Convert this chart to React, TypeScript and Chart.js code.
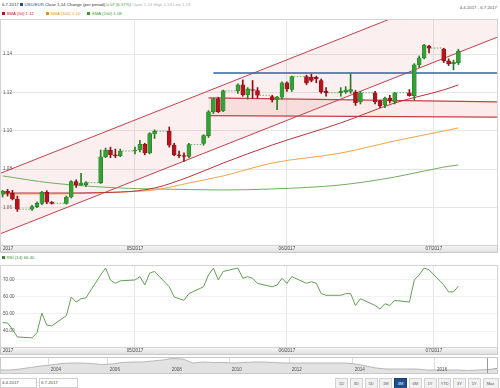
import React, { useEffect, useRef } from 'react';
import { Chart, registerables } from 'chart.js';
Chart.register(...registerables);

// ---------------- DATA ----------------
const candleDates = [
  '2017-04-04','2017-04-05','2017-04-06','2017-04-07',
  '2017-04-10','2017-04-11','2017-04-12','2017-04-13','2017-04-14',
  '2017-04-17','2017-04-18','2017-04-19','2017-04-20','2017-04-21',
  '2017-04-24','2017-04-25','2017-04-26','2017-04-27','2017-04-28',
  '2017-05-01','2017-05-02','2017-05-03','2017-05-04','2017-05-05',
  '2017-05-08','2017-05-09','2017-05-10','2017-05-11','2017-05-12',
  '2017-05-15','2017-05-16','2017-05-17','2017-05-18','2017-05-19',
  '2017-05-22','2017-05-23','2017-05-24','2017-05-25','2017-05-26',
  '2017-05-29','2017-05-30','2017-05-31','2017-06-01','2017-06-02',
  '2017-06-05','2017-06-06','2017-06-07','2017-06-08','2017-06-09',
  '2017-06-12','2017-06-13','2017-06-14','2017-06-15','2017-06-16',
  '2017-06-19','2017-06-20','2017-06-21','2017-06-22','2017-06-23',
  '2017-06-26','2017-06-27','2017-06-28','2017-06-29','2017-06-30',
  '2017-07-03','2017-07-04','2017-07-05','2017-07-06',
];
const openVals = [
  1.0670,1.0685,1.0675,1.0645,
  1.0592,1.0605,1.0622,1.0680,1.0628,
  1.0622,1.0655,1.0735,1.0718,1.0720,
  1.0730,1.0865,1.0900,1.0875,1.0870,
  1.0895,1.0900,1.0930,1.0885,1.0985,
  1.0998,1.0925,1.0875,1.0870,1.0866,
  1.0934,1.0975,1.1099,1.1167,1.1103,
  1.1208,1.1240,1.1188,1.1215,1.1210,
  1.1178,1.1162,1.1175,1.1250,1.1215,
  1.1282,1.1280,1.1278,1.1262,1.1205,
  1.1198,1.1203,1.1205,1.1200,1.1150,
  1.1198,1.1155,1.1135,1.1170,1.1150,
  1.1198,1.1183,1.1343,1.1380,1.1441,
  1.1425,1.1364,1.1350,1.1355,
];
const highVals = [
  1.0690,1.0695,1.0690,1.0660,
  1.0612,1.0630,1.0685,1.0688,1.0632,
  1.0660,1.0740,1.0745,1.0778,1.0735,
  1.0900,1.0910,1.0915,1.0905,1.0905,
  1.0915,1.0950,1.0935,1.0990,1.1005,
  1.1020,1.0935,1.0895,1.0885,1.0935,
  1.0980,1.1105,1.1170,1.1175,1.1212,
  1.1245,1.1265,1.1225,1.1262,1.1225,
  1.1185,1.1180,1.1255,1.1255,1.1285,
  1.1290,1.1295,1.1285,1.1270,1.1225,
  1.1225,1.1230,1.1296,1.1210,1.1205,
  1.1205,1.1160,1.1175,1.1185,1.1200,
  1.1215,1.1350,1.1390,1.1450,1.1445,
  1.1430,1.1375,1.1368,1.1425,
];
const lowVals = [
  1.0655,1.0660,1.0640,1.0580,
  1.0585,1.0600,1.0615,1.0620,1.0618,
  1.0618,1.0650,1.0705,1.0715,1.0710,
  1.0725,1.0860,1.0860,1.0860,1.0865,
  1.0880,1.0890,1.0875,1.0880,1.0960,
  1.0915,1.0870,1.0860,1.0840,1.0860,
  1.0925,1.0965,1.1090,1.1095,1.1100,
  1.1195,1.1180,1.1165,1.1170,1.1170,
  1.1150,1.1110,1.1165,1.1205,1.1205,
  1.1240,1.1255,1.1250,1.1195,1.1180,
  1.1180,1.1195,1.1195,1.1132,1.1140,
  1.1140,1.1120,1.1120,1.1145,1.1140,
  1.1180,1.1160,1.1330,1.1375,1.1405,
  1.1355,1.1340,1.1317,1.1345,
];
const closeVals = [
  1.0685,1.0675,1.0645,1.0592,
  1.0605,1.0622,1.0680,1.0628,1.0622,
  1.0655,1.0735,1.0718,1.0728,1.0730,
  1.0865,1.0900,1.0875,1.0870,1.0895,
  1.0900,1.0930,1.0885,1.0985,1.0998,
  1.0925,1.0875,1.0870,1.0866,1.0928,
  1.0975,1.1099,1.1167,1.1100,1.1208,
  1.1240,1.1188,1.1218,1.1210,1.1185,
  1.1162,1.1175,1.1250,1.1218,1.1282,
  1.1250,1.1262,1.1270,1.1203,1.1198,
  1.1205,1.1212,1.1215,1.1146,1.1198,
  1.1150,1.1130,1.1170,1.1155,1.1198,
  1.1183,1.1343,1.1380,1.1447,1.1431,
  1.1364,1.1348,1.1356,1.1415,
];
const rsiVals = [
  45,44.7,41,36.5,
  36,39,50.5,43.5,43,
  49,60,57,59,59.5,
  73,77,70,68,69.5,
  70,72,67,74,75,
  66,60,59,58,62,
  66,73,77,70,75,
  77,71,72,71,68,
  66,67,71,68,72,
  68,69,68,62,61,
  61,62,62,55,59,
  55,53,56,55,58,
  57,70,73,77,76,
  67,63,63,66.4,
];

const smaDates = ['2017-04-04','2017-04-14','2017-04-28','2017-05-05','2017-05-12','2017-05-19','2017-05-29','2017-06-12','2017-06-23','2017-07-03','2017-07-06'];
const sma50Vals = [1.0676,1.0676,1.0681,1.0702,1.0760,1.0832,1.0926,1.1041,1.1145,1.1213,1.1239];
const sma100Vals = [1.0671,1.0671,1.0681,1.0692,1.0728,1.0765,1.0832,1.0884,1.0947,1.0999,1.1015];
const sma200Vals = [1.0765,1.0728,1.0702,1.0697,1.0694,1.0692,1.0697,1.0718,1.0759,1.0811,1.0822];

// drawn trend channel (two parallel lines), horizontal zone and resistance line
const channelDates = ['2017-04-01','2017-07-20'];
const channelUpperVals = [1.0753,1.1865];
const channelLowerVals = [1.0438,1.1549];
const zoneDates = ['2017-05-16','2017-07-20'];
const zoneUpperVals = [1.1172,1.1149];
const zoneLowerVals = [1.1079,1.1070];
const resistDates = ['2017-05-17','2017-07-20'];
const resistVals = [1.1301,1.1301];

const priceTicks = [1.06,1.08,1.10,1.12,1.14];
const rsiTicks = [40,50,60,70];
const monthTickDates = ['2017-05-01','2017-06-01','2017-07-01'];
const monthTickLabels = ['05/2017','06/2017','07/2017'];
const firstAxisLabel = '2017';
const axisStart = '2017-04-03T11:00:00';
const axisEnd = '2017-07-13T21:00:00';

const navValues = [1.00,1.00,1.05,1.125,1.20,1.25,1.325,1.35,1.35,1.325,1.275,1.30,1.375,1.40,1.40,1.45,1.50,1.575,1.55,1.35,1.40,1.375,1.375,1.35,1.375,1.40,1.40,1.375,1.35,1.35,1.35,1.35,1.35,1.35,1.35,1.30,1.20,1.10,1.05,1.05,1.05,1.05,1.00,1.00,1.00,1.00,0.975,1.00,1.025,1.075];
const navYearLabels = ['2004','2006','2008','2010','2012','2014','2016'];
const navYearIdx = [4.7,10.5,16.6,22.5,28.4,34.6,42.7];
const navSelIdx = [47.9,48.5,49];
const navSelVals = [1.0,1.03,1.08];

const rangeButtons = ['1D','3D','5D','1M','3M','6M','1Y','YTD','3Y','5Y','Max'];
const selectedRange = '3M';

// ---------------- HELPERS ----------------
const FONT = '"Liberation Sans", Arial, sans-serif';
const GREEN = '#35a035';
const GREEN_D = '#267d26';
const RED = '#b3151d';
const RED_D = '#8e0f15';

function dayIndex(s: string): number {
  const iso = s.length === 10 ? s + 'T00:00:00Z' : s + 'Z';
  return (Date.parse(iso) - Date.parse('2017-04-01T00:00:00Z')) / 86400000;
}

const bandPlugin = {
  id: 'bandPlugin',
  beforeDraw(chart: any) {
    const { ctx } = chart;
    ctx.save();
    ctx.fillStyle = '#ffffff';
    ctx.fillRect(0, 0, chart.width, chart.height);
    ctx.restore();
  },
  afterDraw(chart: any) {
    const { ctx, chartArea, scales } = chart;
    const top = chartArea.bottom;
    const h = 8;
    ctx.save();
    const g = ctx.createLinearGradient(0, top, 0, top + h);
    g.addColorStop(0, '#f8f8f8');
    g.addColorStop(1, '#dedede');
    ctx.fillStyle = g;
    ctx.fillRect(0, top, 498, h);
    ctx.strokeStyle = '#c9c9c9';
    ctx.lineWidth = 1;
    ctx.strokeRect(0.5, top + 0.5, 497, h - 1);
    ctx.strokeStyle = '#d4d4d4';
    ctx.strokeRect(0.5, chartArea.top + 0.5, 497, top - chartArea.top);
    ctx.fillStyle = '#444';
    ctx.font = '4.6px ' + FONT;
    ctx.textBaseline = 'middle';
    ctx.textAlign = 'left';
    ctx.fillText(firstAxisLabel, 3, top + h / 2);
    ctx.textAlign = 'center';
    monthTickDates.forEach((d, i) => {
      ctx.fillText(monthTickLabels[i], scales.x.getPixelForValue(dayIndex(d)), top + h / 2);
    });
    ctx.restore();
  },
};

function xScale() {
  return {
    type: 'linear',
    min: dayIndex(axisStart),
    max: dayIndex(axisEnd),
    offset: false,
    afterBuildTicks: (s: any) => { s.ticks = monthTickDates.map((d) => ({ value: dayIndex(d) })); },
    afterFit: (s: any) => { s.height = 8; s.paddingLeft = 0; s.paddingRight = 0; },
    ticks: { display: false },
    grid: { color: '#e6e6e6', drawTicks: false, offset: false },
    border: { display: false },
  };
}

function yScale(min: number, max: number, ticks: number[], gridColor: string) {
  return {
    position: 'left',
    min, max,
    afterBuildTicks: (s: any) => { s.ticks = ticks.map((v) => ({ value: v })); },
    afterFit: (s: any) => { s.width = 0; s.paddingTop = 0; s.paddingBottom = 0; },
    ticks: { mirror: true, padding: 3, color: '#555', font: { size: 4.6, family: FONT }, callback: (v: any) => Number(v).toFixed(2) },
    grid: { color: gridColor, drawTicks: false },
    border: { display: false },
  };
}

function pts(dates: string[], vals: number[]) {
  return dates.map((d, i) => ({ x: dayIndex(d), y: vals[i] }));
}

export default function App() {
  const mainRef = useRef<HTMLCanvasElement>(null);
  const rsiRef = useRef<HTMLCanvasElement>(null);
  const navRef = useRef<HTMLCanvasElement>(null);

  useEffect(() => {
    const xs = candleDates.map(dayIndex);
    const up = closeVals.map((c, i) => c >= openVals[i]);
    const gaps: any[] = [];
    for (let i = 0; i < xs.length - 1; i++) {
      if (xs[i + 1] - xs[i] > 1.5) {
        gaps.push({ x: xs[i] + 0.4, y: closeVals[i] });
        gaps.push({ x: xs[i + 1] - 0.4, y: closeVals[i] });
        gaps.push({ x: (xs[i] + xs[i + 1]) / 2, y: null });
      }
    }
    const lineDs = (data: any[], color: string, width: number, order: number, extra: any = {}) => ({
      type: 'line', data, borderColor: color, borderWidth: width, pointRadius: 0, order, fill: false, ...extra,
    });

    const main = new Chart(mainRef.current!, {
      type: 'bar',
      data: {
        datasets: [
          lineDs(pts(channelDates, channelUpperVals), '#c4404a', 1, 20, { fill: '+1', backgroundColor: 'rgba(225,95,95,0.10)' }),
          lineDs(pts(channelDates, channelLowerVals), '#c4404a', 1, 19),
          lineDs(pts(zoneDates, zoneUpperVals), '#c64048', 1.2, 18, { fill: '+1', backgroundColor: 'rgba(220,90,90,0.12)' }),
          lineDs(pts(zoneDates, zoneLowerVals), '#c64048', 1.2, 17),
          lineDs(pts(resistDates, resistVals), '#2f62a8', 1.3, 16),
          lineDs(pts(smaDates, sma200Vals), '#74ad62', 1, 15, { cubicInterpolationMode: 'monotone' }),
          lineDs(pts(smaDates, sma100Vals), '#f0a548', 1, 14, { cubicInterpolationMode: 'monotone' }),
          lineDs(pts(smaDates, sma50Vals), '#b8343c', 1, 13, { cubicInterpolationMode: 'monotone' }),
          lineDs(gaps, '#4f9f4f', 0.8, 3, { borderDash: [1.5, 1.5], spanGaps: false }),
          {
            type: 'bar', data: xs.map((x, i) => ({ x, y: [lowVals[i], highVals[i]] })),
            backgroundColor: up.map((u) => (u ? GREEN_D : RED_D)), barThickness: 1, grouped: false, order: 2,
          },
          {
            type: 'bar', data: xs.map((x, i) => ({ x, y: [openVals[i], closeVals[i]] })),
            backgroundColor: up.map((u) => (u ? GREEN : RED)), borderColor: up.map((u) => (u ? GREEN_D : RED_D)),
            borderWidth: 0.6, borderSkipped: false, barThickness: 4, grouped: false, minBarLength: 1, order: 1,
          },
        ] as any,
      },
      options: {
        animation: false, responsive: false, maintainAspectRatio: false,
        layout: { padding: { left: 0, right: 3, top: 0, bottom: 0 } },
        plugins: { legend: { display: false }, tooltip: { enabled: false } },
        scales: { x: xScale() as any, y: yScale(1.04052, 1.15823, priceTicks, '#e6e6e6') as any },
      },
      plugins: [bandPlugin],
    });

    const rsi = new Chart(rsiRef.current!, {
      type: 'line',
      data: {
        datasets: [
          { data: xs.map((x, i) => ({ x, y: rsiVals[i] })), borderColor: '#62a055', borderWidth: 1, pointRadius: 0, fill: false },
        ],
      },
      options: {
        animation: false, responsive: false, maintainAspectRatio: false,
        layout: { padding: { left: 0, right: 3, top: 2, bottom: 0 } },
        plugins: { legend: { display: false }, tooltip: { enabled: false } },
        scales: { x: xScale() as any, y: yScale(30.6, 78.8, rsiTicks, '#f1f1f1') as any },
      },
      plugins: [bandPlugin],
    });

    const navPlugin = {
      id: 'navPlugin',
      beforeDatasetsDraw(chart: any) {
        const { ctx, scales, chartArea } = chart;
        ctx.save();
        ctx.strokeStyle = '#dedede';
        ctx.lineWidth = 1;
        navYearIdx.forEach((v) => {
          const px = Math.round(scales.x.getPixelForValue(v)) + 0.5;
          ctx.beginPath(); ctx.moveTo(px, chartArea.top); ctx.lineTo(px, chartArea.bottom); ctx.stroke();
        });
        ctx.restore();
      },
      afterDraw(chart: any) {
        const { ctx, scales, chartArea } = chart;
        ctx.save();
        ctx.fillStyle = '#555';
        ctx.font = '4.6px ' + FONT;
        ctx.textBaseline = 'middle';
        ctx.textAlign = 'left';
        navYearIdx.forEach((v, i) => {
          ctx.fillText(navYearLabels[i], scales.x.getPixelForValue(v) + 3, chartArea.bottom - 4);
        });
        const sx = Math.round(scales.x.getPixelForValue(navSelIdx[0])) + 0.5;
        ctx.strokeStyle = '#999';
        ctx.beginPath(); ctx.moveTo(sx, chartArea.top); ctx.lineTo(sx, chartArea.bottom); ctx.stroke();
        ctx.strokeStyle = '#c8c8c8';
        ctx.strokeRect(0.5, chartArea.top + 0.5, 497, chartArea.bottom - chartArea.top - 1);
        ctx.restore();
      },
    };

    const nav = new Chart(navRef.current!, {
      type: 'line',
      data: {
        datasets: [
          { data: navValues.map((v, i) => ({ x: i, y: v })), borderColor: '#a9a9a9', borderWidth: 0.8, backgroundColor: '#e2e2e2', fill: 'start', pointRadius: 0 },
          { data: navSelIdx.map((x, i) => ({ x, y: navSelVals[i] })), borderColor: '#24579a', borderWidth: 0.8, backgroundColor: '#2d5fa0', fill: 'start', pointRadius: 0 },
        ],
      },
      options: {
        animation: false, responsive: false, maintainAspectRatio: false,
        layout: { padding: { left: 0, right: 2, top: 0, bottom: 0 } },
        plugins: { legend: { display: false }, tooltip: { enabled: false } },
        scales: {
          x: { type: 'linear', min: 0, max: navValues.length - 1, display: false },
          y: { min: 0.8, max: 1.65, display: false },
        },
      },
      plugins: [navPlugin],
    });

    return () => { main.destroy(); rsi.destroy(); nav.destroy(); };
  }, []);

  const sq = (c: string) => (
    <span style={{ display: 'inline-block', width: 3, height: 3, background: c, marginRight: 1.5, verticalAlign: 'middle' }} />
  );
  const txt: any = { position: 'absolute', whiteSpace: 'nowrap', fontSize: '4.3px', lineHeight: '6px', color: '#333' };

  return (
    <div style={{ position: 'fixed', left: 0, top: 0, width: 500, height: 388, background: '#fff', fontFamily: FONT, overflow: 'hidden' }}>
      <div style={{ ...txt, left: 2, top: 2 }}>
        <span>6.7.2017 </span>{sq('#1f4f8f')}<span style={{ color: '#1f4f8f' }}>USD/EUR</span>
        <span> Close 1,14 Change (per period) </span>
        <span style={{ color: '#3a9a3a' }}>0,07 (6.57%) </span>
        <span style={{ color: '#b0b0b0' }}>Open 1,14 High 1,14 Low 1,13</span>
      </div>
      <div style={{ ...txt, right: 3, top: 5, color: '#555' }}>4.4.2017 - 6.7.2017</div>
      <div style={{ ...txt, left: 2, top: 11 }}>
        {sq('#b3151d')}<span style={{ color: '#b3151d', marginRight: 12 }}>SMA (50) 1.12</span>
        {sq('#eb8f1a')}<span style={{ color: '#eb8f1a', marginRight: 7 }}>SMA (100) 1.10</span>
        {sq('#3a9a3a')}<span style={{ color: '#3a9a3a' }}>SMA (200) 1.08</span>
      </div>
      <canvas ref={mainRef} width={500} height={234} style={{ position: 'absolute', left: 0, top: 19, width: 500, height: 234 }} />
      <div style={{ ...txt, left: 2, top: 255 }}>
        {sq('#3a8a3a')}<span style={{ color: '#3a8a3a' }}>RSI (14) 66.40</span>
      </div>
      <canvas ref={rsiRef} width={500} height={92} style={{ position: 'absolute', left: 0, top: 263, width: 500, height: 92 }} />
      <canvas ref={navRef} width={500} height={17} style={{ position: 'absolute', left: 0, top: 357, width: 500, height: 17 }} />
      <div style={{ position: 'absolute', left: 0, top: 378, width: 34, height: 8, border: '1px solid #cfcfcf', fontSize: '4.3px', lineHeight: '8px', paddingLeft: 1, color: '#444', boxSizing: 'content-box' }}>4.4.2017</div>
      <div style={{ ...txt, left: 36.5, top: 379 }}>-</div>
      <div style={{ position: 'absolute', left: 39, top: 378, width: 36, height: 8, border: '1px solid #cfcfcf', fontSize: '4.3px', lineHeight: '8px', paddingLeft: 1, color: '#444' }}>6.7.2017</div>
      {rangeButtons.map((b, i) => (
        <div key={b} style={{
          position: 'absolute', left: 335 + i * 14.75, top: 378, width: b === 'Max' ? 14 : 11, height: 9,
          background: b === selectedRange ? '#1d4f8e' : '#f1f1f1', border: '1px solid ' + (b === selectedRange ? '#163f72' : '#d2d2d2'),
          color: b === selectedRange ? '#fff' : '#555', fontSize: '4px', lineHeight: '9px', textAlign: 'center',
        }}>{b}</div>
      ))}
    </div>
  );
}
